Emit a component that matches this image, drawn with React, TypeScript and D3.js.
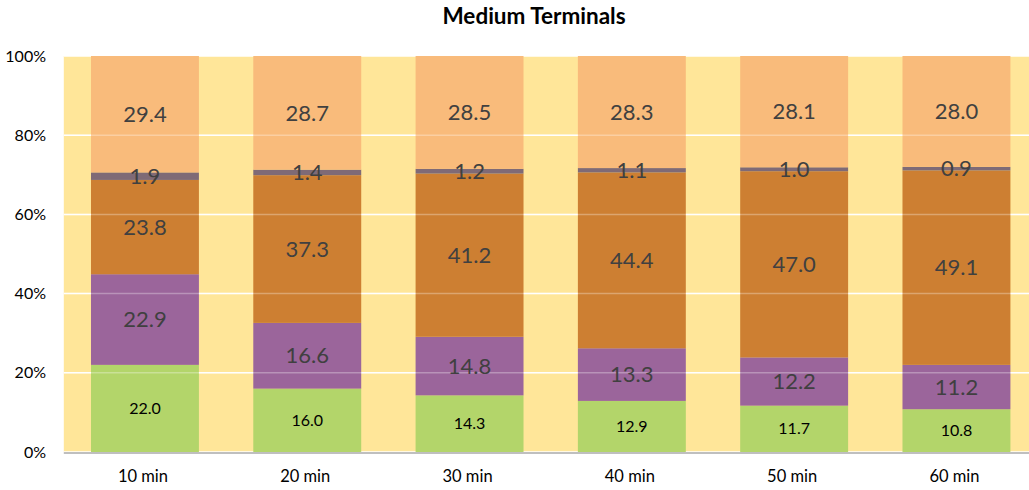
import React from "react";
import * as d3 from "d3";

const categories = ["10 min", "20 min", "30 min", "40 min", "50 min", "60 min"];
const seriesNames = ["s1", "s2", "s3", "s4", "s5"];
const s1 = [22.0, 16.0, 14.3, 12.9, 11.7, 10.8];
const s2 = [22.9, 16.6, 14.8, 13.3, 12.2, 11.2];
const s3 = [23.8, 37.3, 41.2, 44.4, 47.0, 49.1];
const s4 = [1.9, 1.4, 1.2, 1.1, 1.0, 0.9];
const s5 = [29.4, 28.7, 28.5, 28.3, 28.1, 28.0];
const yTicks = [0, 20, 40, 60, 80, 100];
const colors = ["#B3D56A", "#9B659B", "#CD7F32", "#7F6A76", "#F9BB7B"];
const labelColors = ["#000000", "#404040", "#404040", "#404040", "#404040"];

const W = 1029, H = 490;
const M = { left: 63.8, top: 56, bottom: 452 };
const plotRight = 63.8 + 162.3 * 6;

export default function App() {
  const x = d3.scaleBand<string>().domain(categories).range([M.left, plotRight]).paddingInner(0.335).paddingOuter(0.1675);
  const y = d3.scaleLinear().domain([0, 100]).range([M.bottom, M.top]);
  const rows = categories.map((c, i) => ({ cat: c, s1: s1[i], s2: s2[i], s3: s3[i], s4: s4[i], s5: s5[i] }));
  const stack = d3.stack<any>().keys(seriesNames)(rows);
  const font = "Lato, 'Open Sans', sans-serif";
  return (
    <svg width={W} height={H} style={{ position: "absolute", left: 0, top: 0, background: "#fff" }} fontFamily={font}>
      <text x={534} y={24} textAnchor="middle" fontWeight="bold" fontSize={22.5} fill="#000">Medium Terminals</text>
      <rect x={M.left} y={M.top} width={plotRight - M.left} height={M.bottom - M.top} fill="#FFE699" />
      {yTicks.map(t => (
        <line key={"g" + t} x1={M.left} x2={plotRight} y1={y(t)} y2={y(t)} stroke="#fff" strokeWidth={1.5} />
      ))}
      {stack.map((layer, si) => layer.map((d, i) => (
        <rect key={si + "-" + i} x={x(categories[i])} y={y(d[1])} width={x.bandwidth()} height={y(d[0]) - y(d[1])}
          fill={colors[si]} />
      )))}
      {yTicks.filter(t => t > 0 && t < 100).map(t => (
        <line key={"go" + t} x1={M.left} x2={plotRight} y1={y(t)} y2={y(t)} stroke="#fff" strokeOpacity={0.3} strokeWidth={1.5} />
      ))}
      <line x1={M.left} x2={plotRight} y1={M.bottom + 1} y2={M.bottom + 1} stroke="#BFBFBF" strokeWidth={2} />
      {stack.map((layer, si) => layer.map((d, i) => (
        <text key={"l" + si + "-" + i} x={(x(categories[i]) as number) + x.bandwidth() / 2} y={y((d[0] + d[1]) / 2)}
          dy="0.35em" textAnchor="middle" fontSize={si === 0 ? 16 : 22} fill={labelColors[si]}>
          {(d[1] - d[0]).toFixed(1)}
        </text>
      )))}
      {yTicks.map(t => (
        <text key={"t" + t} x={46} y={y(t)} dy="0.35em" textAnchor="end" fontSize={16} fill="#000">{t + "%"}</text>
      ))}
      {categories.map(c => (
        <text key={c} x={(x(c) as number) + x.bandwidth() / 2 - 2} y={482} textAnchor="middle" fontSize={16.5} fill="#000">{c}</text>
      ))}
    </svg>
  );
}
